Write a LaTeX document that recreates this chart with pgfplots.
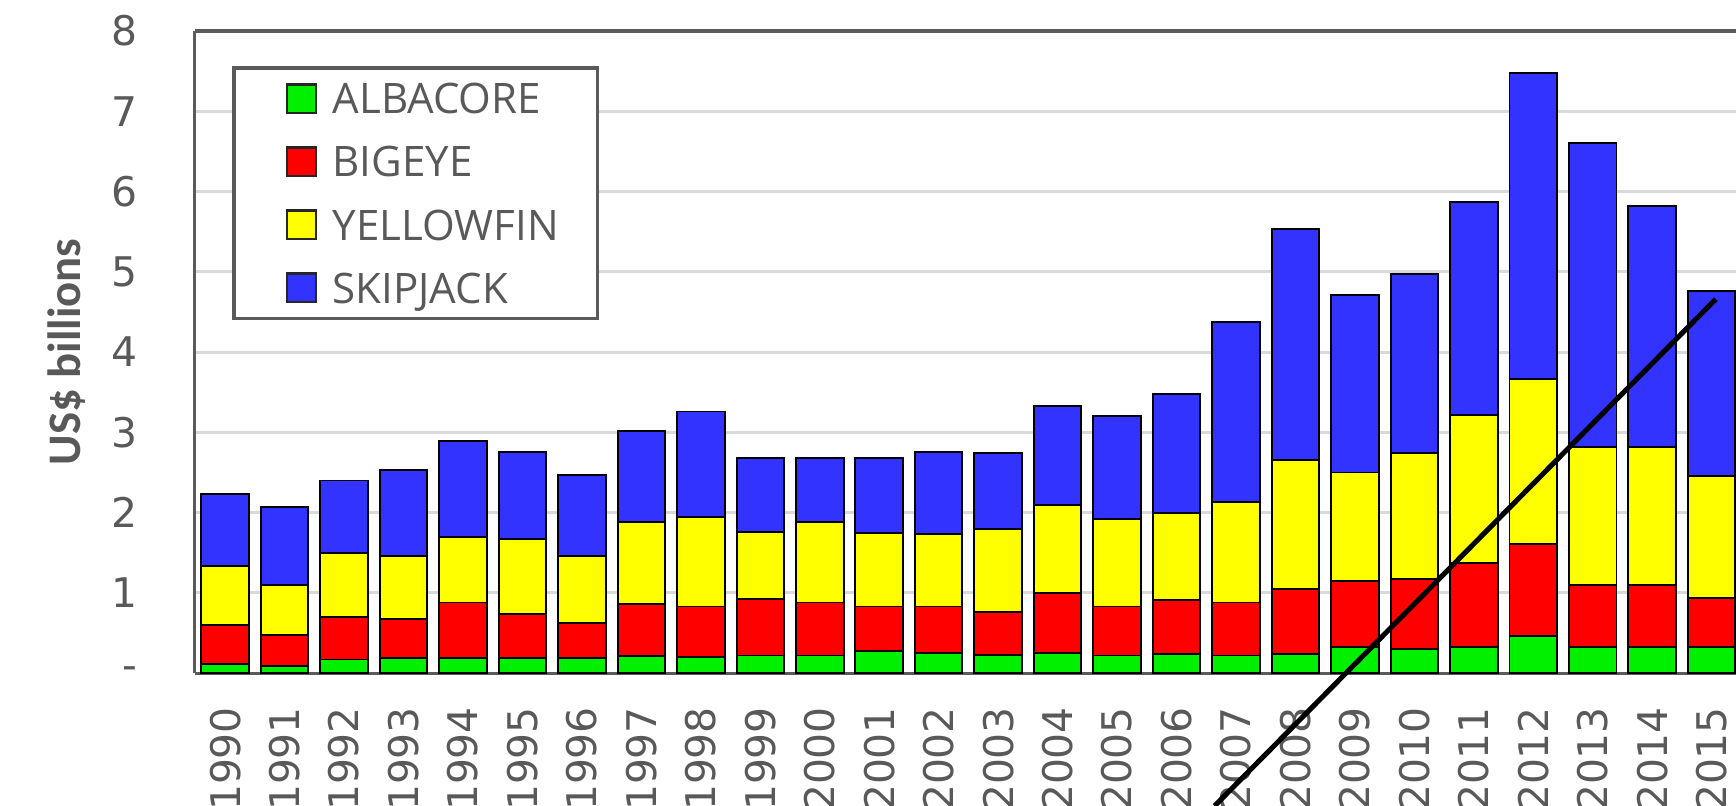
\documentclass[border=0pt]{standalone}
\usepackage{pgfplots}
\pgfplotsset{compat=1.18}
\usepackage{pgfplotstable}
\usepackage{fontspec}
\setmainfont{DejaVu Sans}
\newfontfamily\labfont{Carlito}
\newfontfamily\legfont{Open Sans}

\definecolor{txtgray}{HTML}{595959}
\definecolor{framegray}{HTML}{5A5A5A}
\definecolor{gridgray}{HTML}{D9D9D9}
\definecolor{albc}{HTML}{00F000}
\definecolor{bigc}{HTML}{FF0000}
\definecolor{yelc}{HTML}{FFFF00}
\definecolor{skjc}{HTML}{3333FF}

% tuna catch value by species, US$ billions (segment values, stacked)
\pgfplotstableread{
year alb  big  yel  skj
1990 0.11 0.49 0.73 0.90
1991 0.09 0.38 0.63 0.97
1992 0.17 0.53 0.80 0.90
1993 0.19 0.49 0.78 1.07
1994 0.19 0.69 0.82 1.19
1995 0.19 0.55 0.93 1.09
1996 0.19 0.44 0.83 1.01
1997 0.21 0.65 1.02 1.14
1998 0.20 0.63 1.11 1.32
1999 0.22 0.70 0.84 0.92
2000 0.22 0.66 1.00 0.80
2001 0.28 0.55 0.92 0.93
2002 0.25 0.58 0.90 1.03
2003 0.23 0.53 1.03 0.95
2004 0.25 0.75 1.10 1.23
2005 0.22 0.61 1.09 1.28
2006 0.24 0.67 1.08 1.49
2007 0.22 0.66 1.25 2.24
2008 0.24 0.81 1.61 2.87
2009 0.32 0.83 1.35 2.21
2010 0.30 0.87 1.57 2.23
2011 0.32 1.05 1.85 2.65
2012 0.46 1.15 2.06 3.81
2013 0.33 0.77 1.72 3.79
2014 0.33 0.77 1.72 3.00
2015 0.33 0.61 1.52 2.30
}\tuna

\begin{document}
\begin{tikzpicture}
  \useasboundingbox (0,0) rectangle (15.68,7.28);
  \clip (0,0) rectangle (15.68,7.28);
  \begin{axis}[
      at={(1.76cm,1.20cm)}, anchor=south west,
      scale only axis, width=13.92cm, height=5.80cm,
      xmin=1989.49, xmax=2015.41, ymin=0, ymax=8,
      enlargelimits=false,
      ybar stacked, bar width=0.8,
      axis x line*=box, axis y line*=left,
      axis line style={framegray, line width=0.8pt},
      ymajorgrids, grid style={gridgray, line width=0.8pt},
      major tick length=0pt,
      ytick={0,1,...,8},
      yticklabels={{-\hspace{5pt}},1,2,3,4,5,6,7,8},
      yticklabel style={anchor=east, inner sep=0pt, text=txtgray,
        font=\fontsize{10.5}{12}\selectfont},
      yticklabel shift=14.5pt,
      xtick={1990,1991,...,2015},
      xticklabel style={rotate=90, anchor=east, inner sep=0pt, text=txtgray,
        font=\fontsize{10.5}{12}\selectfont,
        /pgf/number format/1000 sep={},
        /pgf/number format/assume math mode=true},
      xticklabel shift=8.5pt,
      ylabel={US\$ billions},
      ylabel style={at={(axis description cs:-0.0833,0.5)}, anchor=center,
        text=txtgray, font=\labfont\bfseries\fontsize{12}{14}\selectfont},
      legend cell align=left,
      legend image code/.code={
        \path (-0.26cm,0);
        \draw[#1, draw=black!85, line width=0.6pt] (0cm,-0.13cm) rectangle (0.26cm,0.13cm);
      },
      legend style={at={(axis description cs:0.0244,0.9448)}, anchor=north west,
        draw=framegray, line width=0.8pt, fill=white,
        inner xsep=6pt, inner ysep=0pt, row sep=0.4pt,
        font=\legfont\fontsize{10.8}{13}\selectfont, text=txtgray,
        nodes={inner sep=4pt, text height=7.8pt, text depth=0pt}},
      every axis plot/.append style={draw=black, line width=0.5pt},
    ]
    \addplot[fill=albc] table[x=year, y=alb] {\tuna};
    \addplot[fill=bigc] table[x=year, y=big] {\tuna};
    \addplot[fill=yelc] table[x=year, y=yel] {\tuna};
    \addplot[fill=skjc] table[x=year, y=skj] {\tuna};
    \legend{ALBACORE,BIGEYE,YELLOWFIN,SKIPJACK}
  \end{axis}
  % the hand-drawn black line over the chart
  \begin{axis}[
      at={(1.76cm,1.20cm)}, anchor=south west,
      scale only axis, width=13.92cm, height=5.80cm,
      xmin=1989.49, xmax=2015.41, ymin=0, ymax=8,
      hide axis, clip=false,
    ]
    \addplot[black, line width=1.3pt, no marks] coordinates {(2006.64,-1.655) (2015.07,4.66)};
  \end{axis}
\end{tikzpicture}
\end{document}
